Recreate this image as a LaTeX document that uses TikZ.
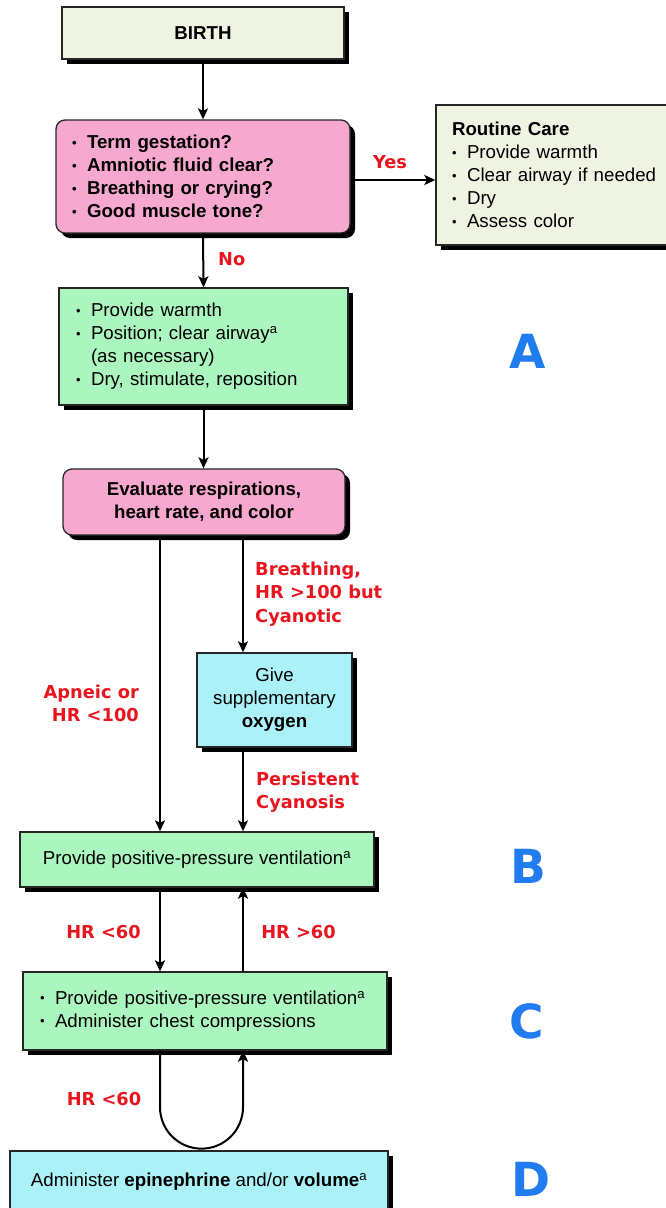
\documentclass[tikz,border=0pt]{standalone}
\usepackage{fontspec}
\setmainfont{Liberation Sans}
\newfontfamily\labelfont{DejaVu Sans}
\usepackage{xcolor}
\usepackage{tikz}
\usetikzlibrary{positioning}
\usetikzlibrary{shadows}
\usetikzlibrary{arrows.meta}
\usetikzlibrary{calc}

\definecolor{birthcol}{RGB}{238,243,226}
\definecolor{askpink}{RGB}{246,168,206}
\definecolor{actgreen}{RGB}{170,246,190}
\definecolor{drugcyan}{RGB}{170,242,248}
\definecolor{labelred}{RGB}{232,20,30}
\definecolor{phaseblue}{RGB}{33,124,240}

\newcommand\bodysize{\fontsize{18.7pt}{23pt}\selectfont}
\newcommand\bul{\makebox[15pt][l]{\raisebox{1.5pt}{\fontsize{13pt}{13pt}\selectfont\textbullet}}}

\tikzstyle{flowbox}=[draw=black!85, line width=1.3pt, inner sep=0pt,
	drop shadow={fill=black, opacity=1, shadow xshift=5pt, shadow yshift=-5pt}]
\tikzstyle{decision}=[flowbox, rounded corners=9pt, fill=askpink, font=\bodysize\bfseries]
\tikzstyle{redlabel}=[inner sep=0pt, text=labelred,
	font=\labelfont\bfseries\fontsize{17.8pt}{23.5pt}\selectfont]
\tikzstyle{phase}=[inner sep=0pt, text=phaseblue,
	font=\labelfont\bfseries\fontsize{47pt}{47pt}\selectfont]
\tikzstyle{flow}=[line width=2pt, -{Stealth[length=11pt,width=10pt,inset=2.5pt]}]

\begin{document}
\begin{tikzpicture}[x=1pt, y=1pt, font=\bodysize]
\useasboundingbox (0,0) rectangle (666,-1208);
\coordinate (lcol) at (160,0);
\coordinate (rcol) at (243,0);

% boxes
\node (birth) 
	[flowbox, fill=birthcol, minimum width=282pt, minimum height=52pt, font=\bodysize\bfseries] 
	at (203,-33) {BIRTH};
\node (quest) 
	[decision, minimum height=113pt, inner xsep=16pt, text width=262pt, align=left] 
	at (203,-176.5) 
	{\bul Term gestation?\\ \bul Amniotic fluid clear?\\ \bul Breathing or crying?\\ \bul Good muscle tone?};
\node (routine) 
	[flowbox, fill=birthcol, minimum height=140pt, inner xsep=16pt, text width=212pt, align=left] 
	at (558,-175) 
	{{\bfseries Routine Care}\\ \bul Provide warmth\\ \bul Clear airway if needed\\ \bul Dry\\ \bul Assess color};
\node (warm) 
	[flowbox, fill=actgreen, minimum height=117pt, inner xsep=17pt, text width=255pt, align=left] 
	at (203.5,-346.5) 
	{\bul Provide warmth\\ \bul Position; clear airway\textsuperscript{a}\\ \hspace*{15pt}(as necessary)\\ \bul Dry, stimulate, reposition};
\node (eval) 
	[decision, minimum width=282pt, minimum height=66pt, align=center] 
	at (204,-502) 
	{Evaluate respirations,\\heart rate, and color};
\node (oxy) 
	[flowbox, fill=drugcyan, minimum width=155pt, minimum height=94pt, align=center] 
	at (274.5,-700) 
	{Give\\supplementary\\{\bfseries oxygen}};
\node (ppv) 
	[flowbox, fill=actgreen, minimum width=354pt, minimum height=55pt] 
	at (197,-859.5) 
	{Provide positive-pressure ventilation\textsuperscript{a}};
\node (comp) 
	[flowbox, fill=actgreen, minimum height=78pt, inner xsep=17pt, text width=330pt, align=left] 
	at (205,-1011) 
	{\bul Provide positive-pressure ventilation\textsuperscript{a}\\ \bul Administer chest compressions};
\node (drug) 
	[flowbox, fill=drugcyan, minimum width=378pt, minimum height=62pt] 
	at (199,-1182) 
	{Administer {\bfseries epinephrine} and/or {\bfseries volume}\textsuperscript{a}};

% phase letters
\node (phA) [phase] at (528,-351) {A};
\node (phB) [phase] at (528,-866.5) {B};
\node (phC) [phase] at (527,-1021) {C};
\node (phD) [phase] at (531,-1179) {D};

% connectors
\draw[flow] ($(quest.east)+(0,-3.5)$) -- ($(quest.east -| routine.west)+(0,-3.5)$);
\draw[flow] (birth.south) -- (quest.north);
\draw[flow] (quest.south) -- (warm.north);
\draw[flow] (warm.south) -- (warm.south |- eval.north);
\draw[flow] (eval.south -| lcol) -- (ppv.north -| lcol);
\draw[flow] (eval.south -| rcol) -- (oxy.north -| rcol);
\draw[flow] (oxy.south -| rcol) -- (ppv.north -| rcol);
\draw[flow] (ppv.south -| lcol) -- (comp.north -| lcol);
\draw[flow] (comp.north -| rcol) -- (ppv.south -| rcol);
\draw[flow] (comp.south -| lcol) -- ++(0,-56.5) 
	arc[start angle=180, end angle=360, radius=41.5] -- (comp.south -| rcol);

% labels
\node (yes) [redlabel] at (390,-162) {Yes};
\node (no) [redlabel, anchor=west] at (218,-259) {No};
\node (breath) [redlabel, anchor=north west, align=left] at (255,-561.5) 
	{Breathing,\\HR >100 but\\Cyanotic};
\node (apneic) [redlabel, anchor=north east, align=right] at (139,-684.5) 
	{Apneic or\\HR <100};
\node (persist) [redlabel, anchor=north west, align=left] at (256,-771.5) 
	{Persistent\\Cyanosis};
\node (lowa) [redlabel] at (103.5,-932) {HR <60};
\node (high) [redlabel] at (298.5,-932) {HR >60};
\node (lowb) [redlabel] at (104,-1099) {HR <60};
\end{tikzpicture}
\end{document}
